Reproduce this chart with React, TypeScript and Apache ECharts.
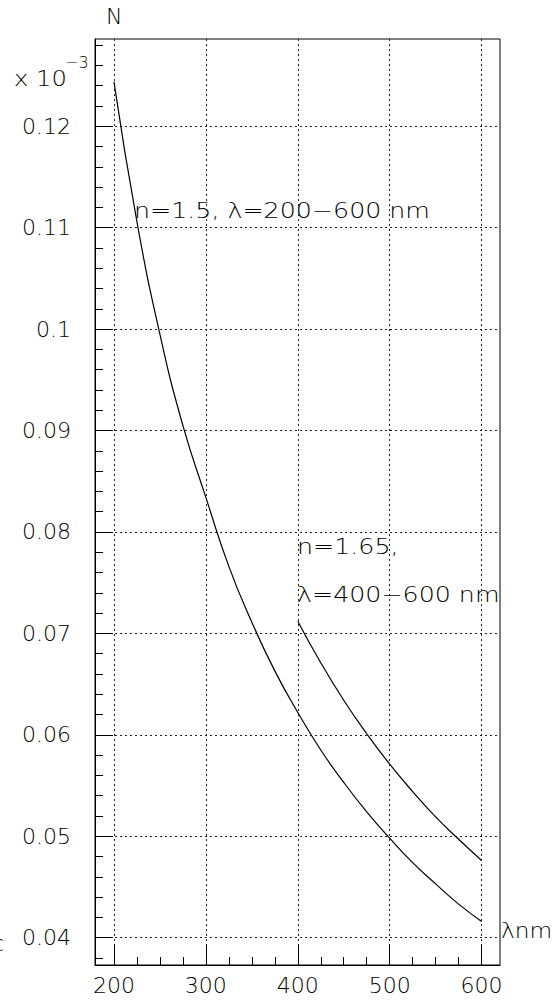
import React, { useEffect, useRef } from "react";
import * as echarts from "echarts";

// wavelength (nm)
const lambda1 = [200, 225, 250, 275, 300, 325, 350, 375, 400, 425, 450, 475, 500, 525, 550, 575, 600];
// n = 1.5, λ = 200-600 nm
const n15 = [0.1244, 0.1106, 0.0995, 0.0905, 0.0834, 0.0766, 0.0711, 0.0663, 0.0622, 0.0585, 0.0553, 0.0524, 0.0498, 0.0474, 0.0453, 0.0433, 0.0416];
const lambda2 = [400, 425, 450, 475, 500, 525, 550, 575, 600];
// n = 1.65, λ = 400-600 nm
const n165 = [0.0712, 0.0671, 0.0634, 0.0601, 0.0571, 0.0544, 0.0519, 0.0497, 0.0476];

const xMajor = [200, 300, 400, 500, 600];
const xMinor = [200, 225, 250, 275, 300, 325, 350, 375, 400, 425, 450, 475, 500, 525, 550, 575, 600];
const yMajor = [0.04, 0.05, 0.06, 0.07, 0.08, 0.09, 0.1, 0.11, 0.12];
const yMinor: number[] = [];
for (let k = 19; k <= 64; k++) yMinor.push(Math.round(k * 0.002 * 1000) / 1000);

const FONT = "DejaVu Sans";
const TXT = "#000";

export default function App() {
  const ref = useRef<HTMLDivElement>(null);
  useEffect(() => {
    if (!ref.current) return;
    const chart = echarts.init(ref.current, null, { renderer: "svg" });
    const gridLine = { show: true, lineStyle: { color: "#222", width: 1, type: [2, 3] as any } };
    const txtStyle = { fontFamily: FONT, fontSize: 22, fontWeight: 200 as any, color: TXT };
    const f22 = `200 22px "${FONT}"`;
    chart.setOption({
      animation: false,
      backgroundColor: "#fff",
      grid: { left: 95, right: 58, top: 39, bottom: 36, show: true, borderColor: "#000", borderWidth: 1, backgroundColor: "transparent" },
      xAxis: [
        {
          type: "value", min: 179.4, max: 620, position: "bottom",
          axisLine: { show: true, onZero: false, lineStyle: { color: "#000", width: 1 } },
          axisTick: { show: true, inside: true, length: 20, customValues: xMajor, lineStyle: { color: "#000", width: 1 } },
          axisLabel: { show: true, customValues: xMajor, margin: 9, ...txtStyle },
          splitLine: gridLine,
        },
        {
          type: "value", min: 179.4, max: 620, position: "bottom",
          axisLine: { show: false },
          axisTick: { show: true, inside: true, length: 8, customValues: xMinor, lineStyle: { color: "#000", width: 1 } },
          axisLabel: { show: false },
          splitLine: { show: false },
        },
      ],
      yAxis: [
        {
          type: "value", min: 0.0373, max: 0.1286, position: "left",
          axisLine: { show: true, onZero: false, lineStyle: { color: "#000", width: 1 } },
          axisTick: { show: true, inside: true, length: 18, customValues: yMajor, lineStyle: { color: "#000", width: 1 } },
          axisLabel: { show: true, customValues: yMajor, margin: 24, ...txtStyle },
          splitLine: gridLine,
        },
        {
          type: "value", min: 0.0373, max: 0.1286, position: "left",
          axisLine: { show: false },
          axisTick: { show: true, inside: true, length: 8, customValues: yMinor, lineStyle: { color: "#000", width: 1 } },
          axisLabel: { show: false },
          splitLine: { show: false },
        },
      ],
      series: [
        {
          type: "line", name: "n=1.5", xAxisIndex: 0, yAxisIndex: 0,
          data: lambda1.map((l, i) => [l, n15[i]]),
          smooth: true, showSymbol: false, lineStyle: { color: "#000", width: 1.2 },
        },
        {
          type: "line", name: "n=1.65", xAxisIndex: 0, yAxisIndex: 0,
          data: lambda2.map((l, i) => [l, n165[i]]),
          smooth: true, showSymbol: false, lineStyle: { color: "#000", width: 1.2 },
        },
      ],
      graphic: [
        { type: "text", left: 106, top: 5, style: { text: "N", font: f22, fill: TXT } },
        { type: "text", x: 14, y: 78, scaleX: 1.1, style: { text: "x 10", font: f22, fill: TXT, textVerticalAlign: "middle" } },
        { type: "text", x: 65, y: 62, style: { text: "\u22123", font: `200 16px "${FONT}"`, fill: TXT, textVerticalAlign: "middle" } },
        { type: "text", x: 4, y: 943, style: { text: "c", font: f22, fill: TXT, textAlign: "right", textVerticalAlign: "middle" } },
        { type: "text", x: 501, y: 930, scaleX: 1.06, style: { text: "\u03bbnm", font: f22, fill: TXT, textVerticalAlign: "middle" } },
        { type: "text", x: 134, y: 211, scaleX: 1.15, style: { text: "n=1.5, \u03bb=200\u2212600 nm", font: f22, fill: TXT, textVerticalAlign: "middle" } },
        { type: "text", x: 297, y: 547, scaleX: 1.15, style: { text: "n=1.65,", font: f22, fill: TXT, textVerticalAlign: "middle" } },
        { type: "text", x: 297, y: 595, scaleX: 1.15, style: { text: "\u03bb=400\u2212600 nm", font: f22, fill: TXT, textVerticalAlign: "middle" } },
      ],
    });
    return () => chart.dispose();
  }, []);
  return <div ref={ref} style={{ position: "fixed", left: 0, top: 0, width: 558, height: 1001 }} />;
}
